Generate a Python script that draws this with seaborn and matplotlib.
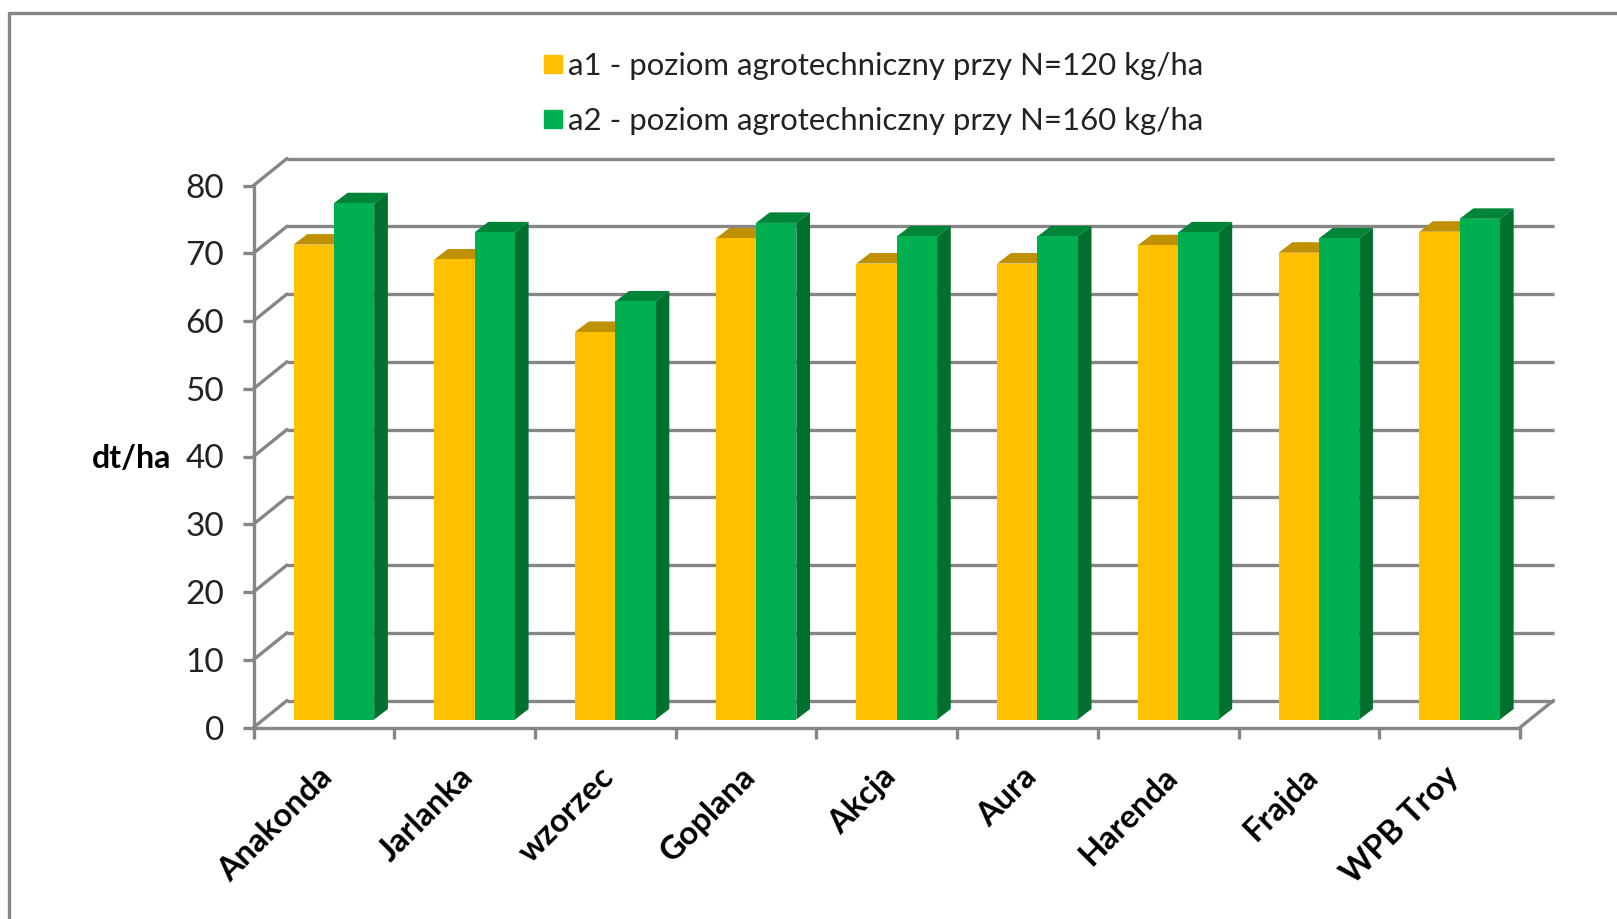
import matplotlib
matplotlib.use("Agg")
import matplotlib.pyplot as plt
import seaborn as sns
import pandas as pd
import numpy as np
from matplotlib.lines import Line2D
from matplotlib.patches import Polygon
from matplotlib.transforms import Affine2D, IdentityTransform

odmiany = ["Anakonda", "Jarlanka", "wzorzec", "Goplana", "Akcja", "Aura", "Harenda", "Frajda", "WPB Troy"]
a1 = [70.1, 67.9, 57.2, 71.0, 67.3, 67.3, 70.0, 68.9, 72.0]
a2 = [76.2, 71.9, 61.7, 73.3, 71.3, 71.3, 71.9, 71.0, 73.9]
label_a1 = "a1 - poziom agrotechniczny przy N=120 kg/ha"
label_a2 = "a2 - poziom agrotechniczny przy N=160 kg/ha"
y_ticks = list(range(0, 81, 10))

W, H = 1617, 919
GRID = "#868686"
YELLOW, YELLOW_TOP = "#FFC000", "#BF9000"
GREEN, GREEN_TOP, GREEN_SIDE = "#00B050", "#008437", "#00702F"

sns.set_theme(style="white")
plt.rcParams["font.family"] = ["Lato", "DejaVu Sans"]

data = pd.DataFrame({
    "odmiana": odmiany * 2,
    "plon": a1 + a2,
    "poziom": [label_a1] * len(odmiany) + [label_a2] * len(odmiany),
})

fig = plt.figure(figsize=(W / 100, H / 100), dpi=100, facecolor="white")
# front plane of the fake 3D box, in pixels of the reference
ax = fig.add_axes([253.5 / W, 1 - 727.5 / H, (1520 - 253.5) / W, (727.5 - 185.5) / H])

sns.barplot(data=data, x="odmiana", y="plon", hue="poziom", order=odmiany,
            palette=[YELLOW, GREEN], width=0.573, gap=0, saturation=1,
            linewidth=0, ax=ax, zorder=4, legend=False)
ax.set_xlim(-0.5, 8.5)
ax.set_ylim(0, 80)
ax.set_xlabel("")
ax.set_ylabel("")

# depth of back wall and of the bars, in pixels
wall = (33.5, 27)
bar_shift = (10.0, 8.0)
bar_depth = (13.7, 10.5)
lw = 2.4

back = ax.transData + Affine2D().translate(*wall)
for v in y_ticks:
    ax.plot([-0.5, 8.5], [v, v], color=GRID, lw=lw, transform=back, clip_on=False, zorder=1, solid_capstyle="butt")
    p = ax.transData.transform((-0.5, v))
    ax.add_line(Line2D([p[0], p[0] + wall[0]], [p[1], p[1] + wall[1]], color=GRID, lw=lw,
                       transform=IdentityTransform(), zorder=1, clip_on=False))
p = ax.transData.transform((8.5, 0))
ax.add_line(Line2D([p[0], p[0] + wall[0]], [p[1], p[1] + wall[1]], color=GRID, lw=lw,
                   transform=IdentityTransform(), zorder=1, clip_on=False))
ax.set_xlim(-0.5, 8.5)
ax.set_ylim(0, 80)

# shift bars off the front plane and add top and side faces
front = ax.transData + Affine2D().translate(*bar_shift)
dx, dy = bar_depth
for cont, top_col, side_col in zip(ax.containers, [YELLOW_TOP, GREEN_TOP], [YELLOW_TOP, GREEN_SIDE]):
    for bar in cont:
        bar.set_transform(front)
        x0, x1, h = bar.get_x(), bar.get_x() + bar.get_width(), bar.get_height()
        (xa, ya), (xb, yb), (_, yc) = front.transform([(x0, h), (x1, h), (x1, 0)])
        ax.add_patch(Polygon([(xa, ya), (xb, yb), (xb + dx, yb + dy), (xa + dx, ya + dy)], closed=True,
                             facecolor=top_col, edgecolor="none", transform=IdentityTransform(),
                             clip_on=False, zorder=3))
        ax.add_patch(Polygon([(xb, yb), (xb, yc), (xb + dx, yc + dy), (xb + dx, yb + dy)], closed=True,
                             facecolor=side_col, edgecolor="none", transform=IdentityTransform(),
                             clip_on=False, zorder=3))

for name in ["top", "right"]:
    ax.spines[name].set_visible(False)
for name in ["left", "bottom"]:
    ax.spines[name].set_color(GRID)
    ax.spines[name].set_linewidth(lw)
    ax.spines[name].set_zorder(2)

ax.set_yticks(y_ticks)
ax.tick_params(axis="y", left=True, length=7.6, width=lw, color=GRID, pad=13.5, labelsize=24, labelcolor="#222222")
ax.set_xticks(np.arange(-0.5, 9), labels=[])
ax.tick_params(axis="x", which="major", bottom=True, length=7.6, width=lw, color=GRID)
ax.set_xticks(range(len(odmiany)), labels=odmiany, minor=True)
ax.tick_params(axis="x", which="minor", bottom=False, length=0, pad=32, labelsize=23.5)
for t in ax.get_xticklabels(minor=True):
    t.set_rotation(45)
    t.set_ha("right")
    t.set_va("center")
    t.set_rotation_mode("anchor")
    t.set_fontweight("bold")
    t.set_color("black")
    t.set_transform(t.get_transform() + Affine2D().translate(4, 0))

fig.text(132 / W, 1 - 459 / H, "dt/ha", fontsize=23, fontweight="bold", ha="center", va="center", color="black")

handles = [Line2D([], [], marker="s", ls="none", color=c, markersize=13) for c in [YELLOW, GREEN]]
fig.legend(handles, [label_a1, label_a2], loc="center left", bbox_to_anchor=(537 / W, 1 - 93.5 / H),
           frameon=False, fontsize=22.4, labelspacing=0.85, handlelength=1, handletextpad=0.0,
           labelcolor="#222222", borderpad=0, borderaxespad=0)

# chart frame, only left and top edges show in the crop
fig.add_artist(Line2D([9 / W, 9 / W, 1], [0, 1 - 13 / H, 1 - 13 / H], color="#868686", lw=2.4))

fig.savefig("out.png", dpi=100, facecolor="white")
